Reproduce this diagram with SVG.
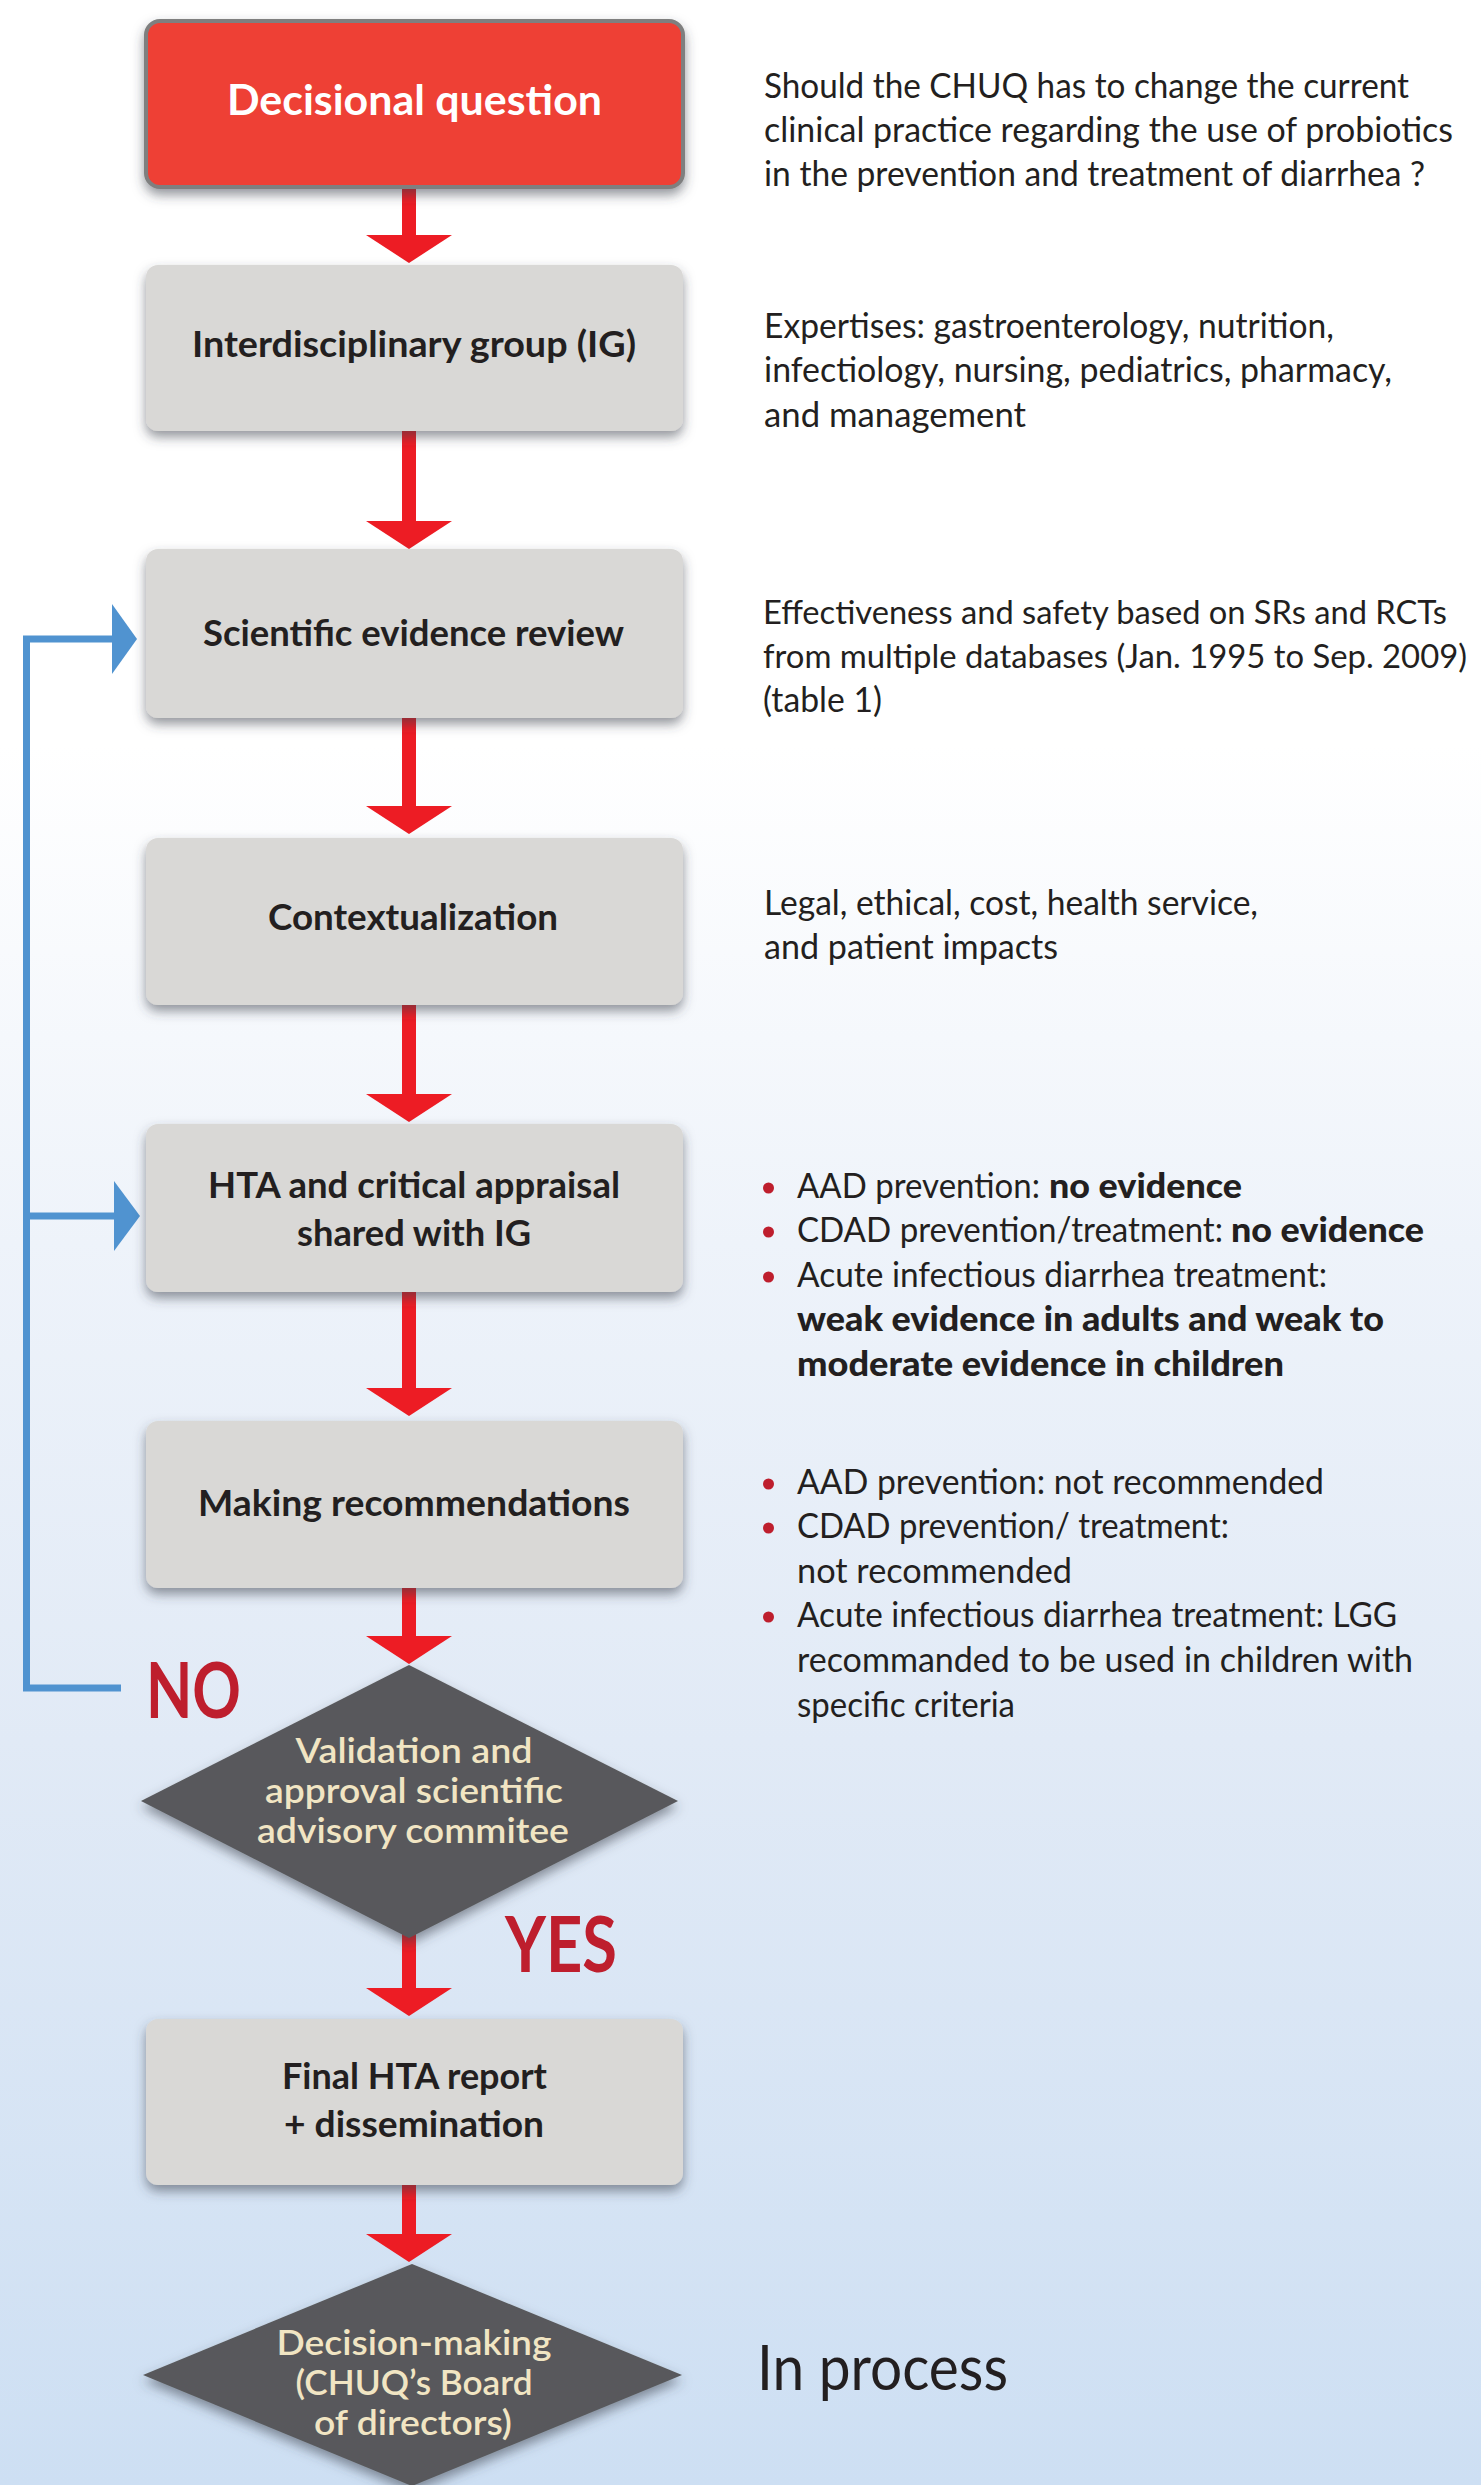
<svg xmlns="http://www.w3.org/2000/svg" width="1481" height="2485" viewBox="0 0 1481 2485">
<defs>
<linearGradient id="bg" x1="0" y1="0" x2="0" y2="1">
<stop offset="0" stop-color="#FFFFFF"/>
<stop offset="0.3" stop-color="#FFFFFF"/>
<stop offset="0.5" stop-color="#EEF3FA"/>
<stop offset="0.7" stop-color="#E1EAF6"/>
<stop offset="1" stop-color="#CDDFF3"/>
</linearGradient>
<filter id="sh" x="-10%" y="-20%" width="120%" height="150%">
<feGaussianBlur in="SourceAlpha" stdDeviation="6"/>
<feOffset dx="0" dy="6" result="b"/>
<feFlood flood-color="#3A3F4A" flood-opacity="0.55"/>
<feComposite in2="b" operator="in"/>
<feMerge><feMergeNode/><feMergeNode in="SourceGraphic"/></feMerge>
</filter>
<path id="head" d="M-43,0 H43 L0,28 Z"/>
<style>
.body{font-family:Lato,"Noto Sans","Liberation Sans",sans-serif;font-size:35px;fill:#231F20}
.sm{font-size:32px}
.b{font-weight:900}
.box{fill:#D9D8D6;filter:url(#sh)}
.bt{font-family:Lato,"Noto Sans","Liberation Sans",sans-serif;font-weight:700;font-size:36px;fill:#231F20;text-anchor:middle}
.dia{fill:#58595B;filter:url(#sh)}
.dt{font-family:Lato,"Noto Sans","Liberation Sans",sans-serif;font-weight:600;font-size:35px;fill:#F1E5C3;text-anchor:middle}
.nc{font-family:Lato,"Noto Sans","Liberation Sans",sans-serif;font-weight:700;font-size:76px;fill:#BE1E2D}
.arr{fill:#ED1C24}
.blue{stroke:#5093D0;stroke-width:7;fill:none;stroke-linejoin:miter}
.bh{fill:#5093D0}
.dot{fill:#BE1E2D}
</style>
</defs>
<rect x="0" y="0" width="1481" height="2485" fill="url(#bg)"/>

<g id="connectors">
<rect class="arr" x="402" y="187" width="14" height="49"/><use href="#head" class="arr" x="409" y="235"/>
<rect class="arr" x="402" y="431" width="14" height="91"/><use href="#head" class="arr" x="409" y="521"/>
<rect class="arr" x="402" y="718" width="14" height="89"/><use href="#head" class="arr" x="409" y="806"/>
<rect class="arr" x="402" y="1005" width="14" height="90"/><use href="#head" class="arr" x="409" y="1094"/>
<rect class="arr" x="402" y="1292" width="14" height="97"/><use href="#head" class="arr" x="409" y="1388"/>
<rect class="arr" x="402" y="1588" width="14" height="49"/><use href="#head" class="arr" x="409" y="1636"/>
<rect class="arr" x="402" y="1930" width="14" height="59"/><use href="#head" class="arr" x="409" y="1988"/>
<rect class="arr" x="402" y="2185" width="14" height="50"/><use href="#head" class="arr" x="409" y="2234"/>
<path class="blue" d="M121,1688 H26.5 V639 H114"/>
<path class="blue" d="M26.5,1216 H116"/>
<polygon class="bh" points="112,604 137,639 112,674"/>
<polygon class="bh" points="114,1181 140,1216 114,1251"/>
<text class="nc" x="146" y="1718" textLength="95" lengthAdjust="spacingAndGlyphs">NO</text>
<text class="nc" x="505" y="1972" textLength="112" lengthAdjust="spacingAndGlyphs">YES</text>
</g>

<g id="n1">
<rect x="146" y="21" width="537" height="166" rx="14" fill="#EE4035" stroke="#7F7F7F" stroke-width="4" filter="url(#sh)"/>
<text class="bt" x="414.5" y="115" style="fill:#FFFFFF;font-size:42px" textLength="375" lengthAdjust="spacingAndGlyphs">Decisional question</text>
</g>
<g id="n2">
<rect class="box" x="146" y="265" width="537" height="166" rx="12"/>
<text class="bt" x="414" y="357" textLength="444" lengthAdjust="spacingAndGlyphs">Interdisciplinary group (IG)</text>
</g>
<g id="n3">
<rect class="box" x="146" y="549" width="537" height="169" rx="12"/>
<text class="bt" x="413.5" y="646" textLength="421" lengthAdjust="spacingAndGlyphs">Scientific evidence review</text>
</g>
<g id="n4">
<rect class="box" x="146" y="838" width="537" height="167" rx="12"/>
<text class="bt" x="413" y="930" textLength="290" lengthAdjust="spacingAndGlyphs">Contextualization</text>
</g>
<g id="n5">
<rect class="box" x="146" y="1124" width="537" height="168" rx="12"/>
<text class="bt" x="414" y="1198" textLength="412" lengthAdjust="spacingAndGlyphs">HTA and critical appraisal</text>
<text class="bt" x="414" y="1246" textLength="234" lengthAdjust="spacingAndGlyphs">shared with IG</text>
</g>
<g id="n6">
<rect class="box" x="146" y="1421" width="537" height="167" rx="12"/>
<text class="bt" x="414" y="1516" textLength="432" lengthAdjust="spacingAndGlyphs">Making recommendations</text>
</g>
<g id="n7">
<polygon class="dia" points="409,1665 678,1801 409,1938 141,1801"/>
<text class="dt" x="414" y="1763" textLength="237" lengthAdjust="spacingAndGlyphs">Validation and</text>
<text class="dt" x="414" y="1803" textLength="298" lengthAdjust="spacingAndGlyphs">approval scientific</text>
<text class="dt" x="413" y="1843" textLength="312" lengthAdjust="spacingAndGlyphs">advisory commitee</text>
</g>
<g id="n8">
<rect class="box" x="146" y="2019" width="537" height="166" rx="12"/>
<text class="bt" x="414.5" y="2089" textLength="265" lengthAdjust="spacingAndGlyphs">Final HTA report</text>
<text class="bt" x="414" y="2137" textLength="260" lengthAdjust="spacingAndGlyphs">+ dissemination</text>
</g>
<g id="n9">
<polygon class="dia" points="412,2264 682,2375 412,2486 143,2375"/>
<text class="dt" x="414" y="2355" textLength="275" lengthAdjust="spacingAndGlyphs">Decision-making</text>
<text class="dt" x="414" y="2395" textLength="237" lengthAdjust="spacingAndGlyphs">(CHUQ’s Board</text>
<text class="dt" x="413" y="2435" textLength="198" lengthAdjust="spacingAndGlyphs">of directors)</text>
</g>

<g id="notes">
<text class="body" x="764" y="98" textLength="645" lengthAdjust="spacingAndGlyphs">Should the CHUQ has to change the current</text>
<text class="body" x="764" y="142" textLength="689" lengthAdjust="spacingAndGlyphs">clinical practice regarding the use of probiotics</text>
<text class="body" x="764" y="186" textLength="661" lengthAdjust="spacingAndGlyphs">in the prevention and treatment of diarrhea ?</text>

<text class="body" x="764" y="338" textLength="570" lengthAdjust="spacingAndGlyphs">Expertises: gastroenterology, nutrition,</text>
<text class="body" x="764" y="382" textLength="628" lengthAdjust="spacingAndGlyphs">infectiology, nursing, pediatrics, pharmacy,</text>
<text class="body" x="764" y="427" textLength="262" lengthAdjust="spacingAndGlyphs">and management</text>

<text class="body sm" x="763" y="624" textLength="684" lengthAdjust="spacingAndGlyphs">Effectiveness and safety based on SRs and RCTs</text>
<text class="body sm" x="763" y="668" textLength="704" lengthAdjust="spacingAndGlyphs">from multiple databases (Jan. 1995 to Sep. 2009)</text>
<text class="body" x="763" y="712" textLength="119" lengthAdjust="spacingAndGlyphs">(table 1)</text>

<text class="body" x="764" y="915" textLength="494" lengthAdjust="spacingAndGlyphs">Legal, ethical, cost, health service,</text>
<text class="body" x="764" y="959" textLength="294" lengthAdjust="spacingAndGlyphs">and patient impacts</text>

<circle class="dot" cx="768.5" cy="1188" r="5.5"/>
<text class="body" x="797" y="1198" textLength="243" lengthAdjust="spacingAndGlyphs">AAD prevention:</text>
<text class="body b" x="1049" y="1198" textLength="193" lengthAdjust="spacingAndGlyphs">no evidence</text>
<circle class="dot" cx="768.5" cy="1232" r="5.5"/>
<text class="body" x="797" y="1242" textLength="426" lengthAdjust="spacingAndGlyphs">CDAD prevention/treatment:</text>
<text class="body b" x="1231" y="1242" textLength="193" lengthAdjust="spacingAndGlyphs">no evidence</text>
<circle class="dot" cx="768.5" cy="1277" r="5.5"/>
<text class="body" x="797" y="1287" textLength="530" lengthAdjust="spacingAndGlyphs">Acute infectious diarrhea treatment:</text>
<text class="body b" x="797" y="1331" textLength="587" lengthAdjust="spacingAndGlyphs">weak evidence in adults and weak to</text>
<text class="body b" x="797" y="1376" textLength="487" lengthAdjust="spacingAndGlyphs">moderate evidence in children</text>

<circle class="dot" cx="768.5" cy="1484" r="5.5"/>
<text class="body" x="797" y="1494" textLength="527" lengthAdjust="spacingAndGlyphs">AAD prevention: not recommended</text>
<circle class="dot" cx="768.5" cy="1528" r="5.5"/>
<text class="body" x="797" y="1538" textLength="432" lengthAdjust="spacingAndGlyphs">CDAD prevention/ treatment:</text>
<text class="body" x="797" y="1583" textLength="275" lengthAdjust="spacingAndGlyphs">not recommended</text>
<circle class="dot" cx="768.5" cy="1617" r="5.5"/>
<text class="body" x="797" y="1627" textLength="600" lengthAdjust="spacingAndGlyphs">Acute infectious diarrhea treatment: LGG</text>
<text class="body" x="797" y="1672" textLength="616" lengthAdjust="spacingAndGlyphs">recommanded to be used in children with</text>
<text class="body" x="797" y="1717" textLength="218" lengthAdjust="spacingAndGlyphs">specific criteria</text>

<text class="body" x="757" y="2390" style="font-size:62px" textLength="251" lengthAdjust="spacingAndGlyphs">In process</text>
</g>
</svg>
